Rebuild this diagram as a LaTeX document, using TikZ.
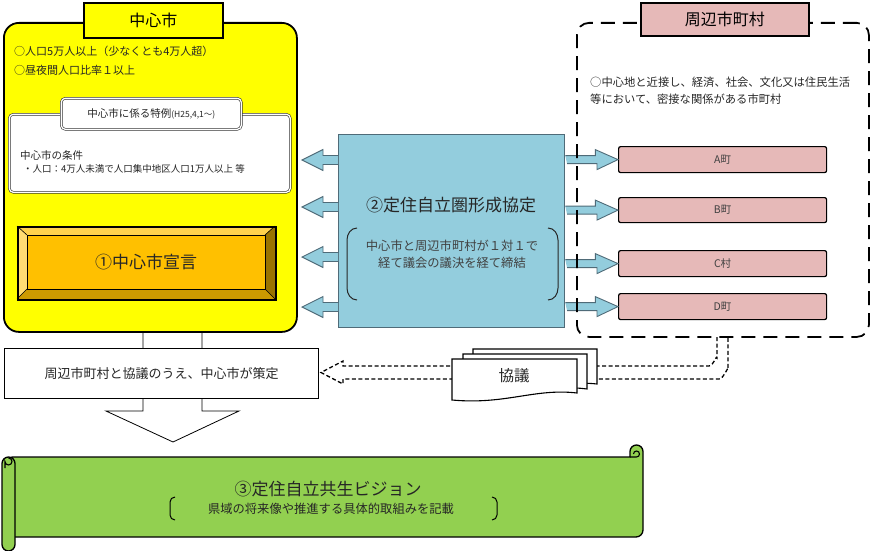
\documentclass[tikz,border=0pt]{standalone}
\usepackage{fontspec}
\setmainfont{Noto Sans CJK JP}
\definecolor{cyellow}{HTML}{FFFF00}
\definecolor{corange}{HTML}{FFC000}
\definecolor{cbevT}{HTML}{FFD24D}
\definecolor{cbevL}{HTML}{FFDC73}
\definecolor{cbevB}{HTML}{CC9A00}
\definecolor{cbevR}{HTML}{9A7400}
\definecolor{cblue}{HTML}{93CDDD}
\definecolor{cbluedk}{HTML}{4F6B78}
\definecolor{cpink}{HTML}{E6B9B8}
\definecolor{cgreen}{HTML}{92D050}
\definecolor{ctext}{HTML}{262626}
\tikzset{
  fs/.style={font=\fontsize{#1}{#1}\selectfont},
  txt/.style={inner sep=0pt, text=ctext},
  box/.style={anchor=north west, inner sep=0pt, draw=black},
  wbox/.style={box, fill=white, draw=black!80, double=white, double distance=1.3pt, line width=0.6pt, rounded corners=4pt},
  pinkbox/.style={box, fill=cpink, line width=1.2pt, rounded corners=2pt, minimum width=208pt, minimum height=26pt, fs=10.5, text=black!75},
  barr/.style={fill=cblue, draw=cbluedk, line width=0.9pt},
  dashline/.style={draw=black, line width=1.3pt, dash pattern=on 4pt off 2.5pt},
  scrollst/.style={fill=cgreen, draw=black, line width=1.3pt},
  docst/.style={fill=white, draw=black, line width=1.1pt},
}
\begin{document}
\begin{tikzpicture}[x=1pt, y=-1pt]
\useasboundingbox (0,0) rectangle (873,551);

% down block arrow (behind boxes)
\draw[fill=white, line width=0.8pt] (143,325) -- (143,411) -- (106,411) -- (173,442) -- (239,411) -- (202,411) -- (202,325);

% ===== central city =====
\node[box, fill=cyellow, line width=1.8pt, rounded corners=15pt, minimum width=293pt, minimum height=309pt] (yel) at (3,22) {};
\node[box, fill=cyellow, line width=1.8pt, minimum width=139pt, minimum height=35pt, fs=16] (yeltitle) at (83,2) {中心市};
\node[txt, anchor=west, fs=11] (y1) at (14,51) {○人口5万人以上（少なくとも4万人超）};
\node[txt, anchor=west, fs=11] (y2) at (14,70) {○昼夜間人口比率１以上};
\node[wbox, minimum width=281pt, minimum height=78pt] (cond) at (9,114) {};
\node[wbox, minimum width=180pt, minimum height=31pt] (tab) at (61,98) {};
\node[txt, fs=10.5] (tabt) at (tab.center) {中心市に係る特例\fontsize{8.5}{8.5}\selectfont(H25,4,1〜)};
\node[txt, anchor=west, fs=10.5] (c1) at (20,155) {中心市の条件};
\node[txt, anchor=west, fs=9.5] (c2) at (23,169) {・人口：4万人未満で人口集中地区人口1万人以上 等};

% bevel
\fill[cbevT] (17,226) -- (275,226) -- (265,235) -- (27,235) -- cycle;
\fill[cbevL] (17,226) -- (27,235) -- (27,289) -- (17,299) -- cycle;
\fill[cbevB] (17,299) -- (27,289) -- (265,289) -- (275,299) -- cycle;
\fill[cbevR] (275,226) -- (265,235) -- (265,289) -- (275,299) -- cycle;
\fill[corange] (27,235) rectangle (265,289);
\draw[line width=0.6pt] (17,226) -- (27,235) (275,226) -- (265,235) (17,299) -- (27,289) (275,299) -- (265,289);
\draw[line width=0.6pt] (27,235) rectangle (265,289);
\node[box, line width=1.6pt, minimum width=258pt, minimum height=73pt] (decl) at (17,226) {};
\node[txt, fs=17] (declt) at (146,262) {①中心市宣言};

% ===== agreement =====
\node[box, fill=cblue, draw=cbluedk, line width=1.3pt, minimum width=226pt, minimum height=193pt] (agree) at (338,134) {};
\node[txt, fs=17] (agt) at (451,205) {②定住自立圏形成協定};
\node[txt, fs=12.3, text=black!75] (ag1) at (452,246) {中心市と周辺市町村が１対１で};
\node[txt, fs=12.3, text=black!75] (ag2) at (452,263) {経て議会の議決を経て締結};
\draw[line width=1pt, draw=black!85] (357,228) to[out=180,in=90] (347,240) -- (347,288) to[out=-90,in=180] (357,300);
\draw[line width=1pt, draw=black!85] (548,228) to[out=0,in=90] (558,240) -- (558,288) to[out=-90,in=0] (548,300);

% left block arrows
\foreach \yy in {160,207,257,307}{
  \draw[barr] (338,\yy-4.5) -- (323,\yy-4.5) -- (323,\yy-10.5) -- (302,\yy) -- (323,\yy+10.5) -- (323,\yy+4.5) -- (338,\yy+4.5);
}

% ===== surrounding =====
\node[pinkbox] (A) at (618,146) {A町};
\node[pinkbox, minimum height=25pt] (B) at (618,197) {B町};
\node[pinkbox] (C) at (618,250) {C村};
\node[pinkbox] (D) at (618,293) {D町};
\foreach \n in {A,B,C,D}{
  \draw[barr] (agree.east |- \n.west) ++(0,-4) -- ++(30,0) -- ++(0,-6) -- (\n.west) -- ++(-21,10) -- ++(0,-6) -- ++(-30,0);
}
\node[box, draw=black, line width=1.8pt, dash pattern=on 14pt off 8pt, rounded corners=12pt, minimum width=292pt, minimum height=314pt] (sur) at (576,22) {};
\node[box, fill=cpink, line width=1.6pt, minimum width=168pt, minimum height=33pt, fs=16] (surtitle) at (640,2) {周辺市町村};
\node[txt, anchor=west, fs=11.3] (s1) at (590,82) {○中心地と近接し、経済、社会、文化又は住民生活};
\node[txt, anchor=west, fs=11.3] (s2) at (590,99) {等において、密接な関係がある市町村};

% ===== plan box =====
\node[box, fill=white, line width=1.4pt, minimum width=314pt, minimum height=50pt, fs=13, text=ctext] (plan) at (4,348) {周辺市町村と協議のうえ、中心市が策定};

% dashed double arrow
\draw[dashline] (717,337) -- (717,358) to[out=90,in=0] (709,366) -- (343,366) -- (343,361) -- (321,372.5) -- (343,384) -- (343,379) -- (719,379) to[out=0,in=90] (728,370) -- (728,337);

% documents
\draw[docst] (473,349) -- (597,349) -- (597,384) .. controls (560,380) and (530,392) .. (473,388) -- cycle;
\draw[docst] (463,354) -- (587,354) -- (587,389) .. controls (550,384) and (520,397) .. (463,394) -- cycle;
\draw[docst] (452,359) -- (577,359) -- (577,393) .. controls (535,388) and (505,405) .. (452,400) -- cycle;
\node[txt, fs=15.5] (kyogi) at (514,376) {協議};

% ===== scroll =====
\draw[scrollst] (12,457) -- (630,457) -- (630,451.5) arc[start angle=180, end angle=360, radius=6.5] -- (643,530) arc[start angle=0, end angle=90, radius=7] -- (12,537) -- cycle;
\draw[line width=1.1pt] (630,457) -- (636.5,457) arc[start angle=90, end angle=-180, radius=3];
\draw[scrollst, rounded corners=6.5pt] (2,457) rectangle (15,551);
\draw[line width=1.1pt] (8.5,458) arc[start angle=-90, end angle=180, radius=3.5] -- (5,468);
\node[txt, fs=17] (vis) at (328,489) {③定住自立共生ビジョン};
\node[txt, fs=12.3] (vis2) at (331,509) {県域の将来像や推進する具体的取組みを記載};
\draw[line width=1pt] (175,497) to[out=180,in=90] (170,502) -- (170,515) to[out=-90,in=180] (175,520);
\draw[line width=1pt] (492,497) to[out=0,in=90] (497,502) -- (497,515) to[out=-90,in=0] (492,520);
\end{tikzpicture}
\end{document}
